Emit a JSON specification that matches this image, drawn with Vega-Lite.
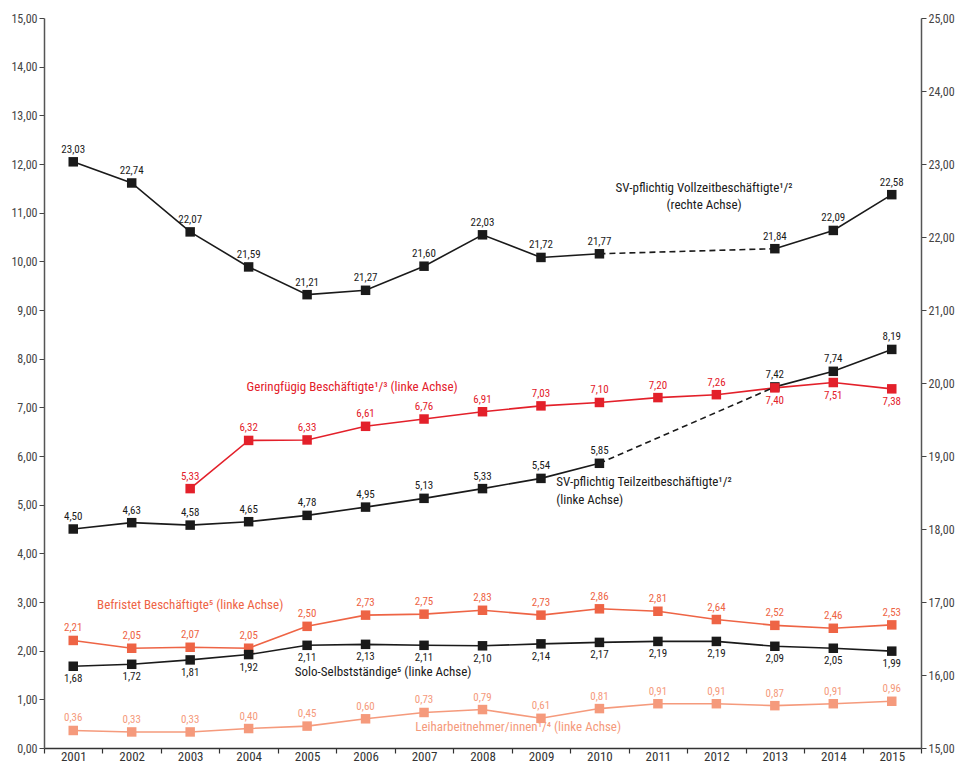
{
  "$schema": "https://vega.github.io/schema/vega-lite/v6.json",
  "width": 877,
  "height": 730,
  "autosize": "none",
  "padding": {"left": 44, "top": 18, "right": 36, "bottom": 21},
  "config": {
    "view": {"stroke": null},
    "font": "Liberation Sans Narrow, Roboto Condensed, Open Sans, sans-serif",
    "locale": {"number": {"decimal": ",", "thousands": ".", "grouping": [3], "currency": ["", " €"]}}
  },
  "datasets": {
    "main": [
      {"s": "Vollzeit", "year": 2001, "v": 23.03, "seg": "a"},
      {"s": "Vollzeit", "year": 2002, "v": 22.74, "seg": "a"},
      {"s": "Vollzeit", "year": 2003, "v": 22.07, "seg": "a"},
      {"s": "Vollzeit", "year": 2004, "v": 21.59, "seg": "a"},
      {"s": "Vollzeit", "year": 2005, "v": 21.21, "seg": "a"},
      {"s": "Vollzeit", "year": 2006, "v": 21.27, "seg": "a"},
      {"s": "Vollzeit", "year": 2007, "v": 21.60, "seg": "a"},
      {"s": "Vollzeit", "year": 2008, "v": 22.03, "seg": "a"},
      {"s": "Vollzeit", "year": 2009, "v": 21.72, "seg": "a"},
      {"s": "Vollzeit", "year": 2010, "v": 21.77, "seg": "a"},
      {"s": "Vollzeit", "year": 2013, "v": 21.84, "seg": "b"},
      {"s": "Vollzeit", "year": 2014, "v": 22.09, "seg": "b"},
      {"s": "Vollzeit", "year": 2015, "v": 22.58, "seg": "b"},
      {"s": "Teilzeit", "year": 2001, "v": 4.50, "seg": "a"},
      {"s": "Teilzeit", "year": 2002, "v": 4.63, "seg": "a"},
      {"s": "Teilzeit", "year": 2003, "v": 4.58, "seg": "a"},
      {"s": "Teilzeit", "year": 2004, "v": 4.65, "seg": "a"},
      {"s": "Teilzeit", "year": 2005, "v": 4.78, "seg": "a"},
      {"s": "Teilzeit", "year": 2006, "v": 4.95, "seg": "a"},
      {"s": "Teilzeit", "year": 2007, "v": 5.13, "seg": "a"},
      {"s": "Teilzeit", "year": 2008, "v": 5.33, "seg": "a"},
      {"s": "Teilzeit", "year": 2009, "v": 5.54, "seg": "a"},
      {"s": "Teilzeit", "year": 2010, "v": 5.85, "seg": "a"},
      {"s": "Teilzeit", "year": 2013, "v": 7.42, "seg": "b"},
      {"s": "Teilzeit", "year": 2014, "v": 7.74, "seg": "b"},
      {"s": "Teilzeit", "year": 2015, "v": 8.19, "seg": "b"},
      {"s": "Geringfügig", "year": 2003, "v": 5.33, "seg": "a"},
      {"s": "Geringfügig", "year": 2004, "v": 6.32, "seg": "a"},
      {"s": "Geringfügig", "year": 2005, "v": 6.33, "seg": "a"},
      {"s": "Geringfügig", "year": 2006, "v": 6.61, "seg": "a"},
      {"s": "Geringfügig", "year": 2007, "v": 6.76, "seg": "a"},
      {"s": "Geringfügig", "year": 2008, "v": 6.91, "seg": "a"},
      {"s": "Geringfügig", "year": 2009, "v": 7.03, "seg": "a"},
      {"s": "Geringfügig", "year": 2010, "v": 7.10, "seg": "a"},
      {"s": "Geringfügig", "year": 2011, "v": 7.20, "seg": "a"},
      {"s": "Geringfügig", "year": 2012, "v": 7.26, "seg": "a"},
      {"s": "Geringfügig", "year": 2013, "v": 7.40, "seg": "a"},
      {"s": "Geringfügig", "year": 2014, "v": 7.51, "seg": "a"},
      {"s": "Geringfügig", "year": 2015, "v": 7.38, "seg": "a"},
      {"s": "Befristet", "year": 2001, "v": 2.21, "seg": "a"},
      {"s": "Befristet", "year": 2002, "v": 2.05, "seg": "a"},
      {"s": "Befristet", "year": 2003, "v": 2.07, "seg": "a"},
      {"s": "Befristet", "year": 2004, "v": 2.05, "seg": "a"},
      {"s": "Befristet", "year": 2005, "v": 2.50, "seg": "a"},
      {"s": "Befristet", "year": 2006, "v": 2.73, "seg": "a"},
      {"s": "Befristet", "year": 2007, "v": 2.75, "seg": "a"},
      {"s": "Befristet", "year": 2008, "v": 2.83, "seg": "a"},
      {"s": "Befristet", "year": 2009, "v": 2.73, "seg": "a"},
      {"s": "Befristet", "year": 2010, "v": 2.86, "seg": "a"},
      {"s": "Befristet", "year": 2011, "v": 2.81, "seg": "a"},
      {"s": "Befristet", "year": 2012, "v": 2.64, "seg": "a"},
      {"s": "Befristet", "year": 2013, "v": 2.52, "seg": "a"},
      {"s": "Befristet", "year": 2014, "v": 2.46, "seg": "a"},
      {"s": "Befristet", "year": 2015, "v": 2.53, "seg": "a"},
      {"s": "Solo", "year": 2001, "v": 1.68, "seg": "a"},
      {"s": "Solo", "year": 2002, "v": 1.72, "seg": "a"},
      {"s": "Solo", "year": 2003, "v": 1.81, "seg": "a"},
      {"s": "Solo", "year": 2004, "v": 1.92, "seg": "a"},
      {"s": "Solo", "year": 2005, "v": 2.11, "seg": "a"},
      {"s": "Solo", "year": 2006, "v": 2.13, "seg": "a"},
      {"s": "Solo", "year": 2007, "v": 2.11, "seg": "a"},
      {"s": "Solo", "year": 2008, "v": 2.10, "seg": "a"},
      {"s": "Solo", "year": 2009, "v": 2.14, "seg": "a"},
      {"s": "Solo", "year": 2010, "v": 2.17, "seg": "a"},
      {"s": "Solo", "year": 2011, "v": 2.19, "seg": "a"},
      {"s": "Solo", "year": 2012, "v": 2.19, "seg": "a"},
      {"s": "Solo", "year": 2013, "v": 2.09, "seg": "a"},
      {"s": "Solo", "year": 2014, "v": 2.05, "seg": "a"},
      {"s": "Solo", "year": 2015, "v": 1.99, "seg": "a"},
      {"s": "Leih", "year": 2001, "v": 0.36, "seg": "a"},
      {"s": "Leih", "year": 2002, "v": 0.33, "seg": "a"},
      {"s": "Leih", "year": 2003, "v": 0.33, "seg": "a"},
      {"s": "Leih", "year": 2004, "v": 0.40, "seg": "a"},
      {"s": "Leih", "year": 2005, "v": 0.45, "seg": "a"},
      {"s": "Leih", "year": 2006, "v": 0.60, "seg": "a"},
      {"s": "Leih", "year": 2007, "v": 0.73, "seg": "a"},
      {"s": "Leih", "year": 2008, "v": 0.79, "seg": "a"},
      {"s": "Leih", "year": 2009, "v": 0.61, "seg": "a"},
      {"s": "Leih", "year": 2010, "v": 0.81, "seg": "a"},
      {"s": "Leih", "year": 2011, "v": 0.91, "seg": "a"},
      {"s": "Leih", "year": 2012, "v": 0.91, "seg": "a"},
      {"s": "Leih", "year": 2013, "v": 0.87, "seg": "a"},
      {"s": "Leih", "year": 2014, "v": 0.91, "seg": "a"},
      {"s": "Leih", "year": 2015, "v": 0.96, "seg": "a"}
    ],
    "dash": [
      {"s": "Teilzeit", "year": 2010, "v": 5.85},
      {"s": "Teilzeit", "year": 2013, "v": 7.42},
      {"s": "Vollzeit", "year": 2010, "v": 21.77},
      {"s": "Vollzeit", "year": 2013, "v": 21.84}
    ],
    "annot": [
      {"s": "Vollzeit", "year": 2011.79, "v": 22.67, "t": "SV-pflichtig Vollzeitbeschäftigte¹/²"},
      {"s": "Vollzeit", "year": 2011.79, "v": 22.44, "t": "(rechte Achse)"},
      {"s": "Geringfügig", "year": 2005.77, "v": 7.42, "t": "Geringfügig Beschäftigte¹/³ (linke Achse)"},
      {"s": "Teilzeit", "year": 2009.26, "v": 5.47, "t": "SV-pflichtig Teilzeitbeschäftigte¹/²"},
      {"s": "Teilzeit", "year": 2009.26, "v": 5.10, "t": "(linke Achse)"},
      {"s": "Befristet", "year": 2003.0, "v": 2.93, "t": "Befristet Beschäftigte⁵ (linke Achse)"},
      {"s": "Solo", "year": 2004.79, "v": 1.57, "t": "Solo-Selbstständige⁵ (linke Achse)"},
      {"s": "Leih", "year": 2006.85, "v": 0.44, "t": "Leiharbeitnehmer/innen¹/⁴ (linke Achse)"}
    ]
  },
  "encoding": {
    "x": {
      "field": "year",
      "type": "quantitative",
      "scale": {"domain": [2000.5, 2015.5], "nice": false, "zero": false},
      "axis": {
        "title": null,
        "grid": false,
        "values": [2000.5, 2001, 2001.5, 2002, 2002.5, 2003, 2003.5, 2004, 2004.5, 2005, 2005.5, 2006, 2006.5, 2007, 2007.5, 2008, 2008.5, 2009, 2009.5, 2010, 2010.5, 2011, 2011.5, 2012, 2012.5, 2013, 2013.5, 2014, 2014.5, 2015, 2015.5],
        "labelExpr": "datum.value % 1 == 0 ? toString(datum.value) : ''",
        "labelOverlap": false,
        "labelFlush": false,
        "labelFontSize": 13,
        "labelColor": "#333",
        "labelPadding": 2,
        "tickSize": {"condition": {"test": "datum.value % 1 == 0", "value": 0}, "value": 5},
        "tickColor": "#333",
        "tickWidth": 1.2,
        "domainColor": "#333",
        "domainWidth": 1.5
      }
    },
    "color": {
      "field": "s",
      "type": "nominal",
      "legend": null,
      "scale": {
        "domain": ["Vollzeit", "Teilzeit", "Solo", "Geringfügig", "Befristet", "Leih"],
        "range": ["#1a1a1a", "#1a1a1a", "#1a1a1a", "#e3202a", "#ee6445", "#f59a7c"]
      }
    }
  },
  "layer": [
    {
      "encoding": {
        "y": {
          "field": "v",
          "type": "quantitative",
          "scale": {"domain": [0, 15], "nice": false},
          "axis": {
            "orient": "left",
            "title": null,
            "grid": false,
            "values": [0, 1, 2, 3, 4, 5, 6, 7, 8, 9, 10, 11, 12, 13, 14, 15],
            "format": ".2f",
            "labelFontSize": 12,
            "labelColor": "#444",
            "labelPadding": 2,
            "tickSize": 5,
            "tickColor": "#444",
            "domainColor": "#555",
            "domainWidth": 1.5
          }
        }
      },
      "layer": [
        {
          "data": {"name": "main"},
          "transform": [{"filter": "datum.s != 'Vollzeit'"}],
          "mark": {"type": "line", "strokeWidth": 1.6},
          "encoding": {"detail": {"field": "seg", "type": "nominal"}}
        },
        {
          "data": {"name": "dash"},
          "transform": [{"filter": "datum.s == 'Teilzeit'"}],
          "mark": {"type": "line", "strokeWidth": 1.6, "strokeDash": [6, 4]},
          "encoding": {}
        },
        {
          "data": {"name": "main"},
          "transform": [{"filter": "datum.s != 'Vollzeit'"}],
          "mark": {"type": "point", "shape": "square", "filled": true, "size": 90, "opacity": 1}
        },
        {
          "data": {"name": "main"},
          "transform": [{"filter": "datum.s != 'Vollzeit' && datum.s != 'Solo' && !(datum.s == 'Geringfügig' && datum.year >= 2013)"}],
          "mark": {"type": "text", "baseline": "bottom", "dy": -7, "fontSize": 11},
          "encoding": {"text": {"field": "v", "type": "quantitative", "format": ".2f"}}
        },
        {
          "data": {"name": "main"},
          "transform": [{"filter": "datum.s == 'Solo' || (datum.s == 'Geringfügig' && datum.year >= 2013)"}],
          "mark": {"type": "text", "baseline": "top", "dy": 7, "fontSize": 11},
          "encoding": {"text": {"field": "v", "type": "quantitative", "format": ".2f"}}
        },
        {
          "data": {"name": "annot"},
          "transform": [{"filter": "datum.s == 'Geringfügig' || datum.s == 'Befristet'"}],
          "mark": {"type": "text", "align": "center", "baseline": "middle", "fontSize": 13},
          "encoding": {"text": {"field": "t"}}
        },
        {
          "data": {"name": "annot"},
          "transform": [{"filter": "datum.s == 'Teilzeit' || datum.s == 'Solo' || datum.s == 'Leih'"}],
          "mark": {"type": "text", "align": "left", "baseline": "middle", "fontSize": 13},
          "encoding": {"text": {"field": "t"}}
        }
      ]
    },
    {
      "encoding": {
        "y": {
          "field": "v",
          "type": "quantitative",
          "scale": {"domain": [15, 25], "nice": false, "zero": false},
          "axis": {
            "orient": "right",
            "title": null,
            "grid": false,
            "values": [15, 16, 17, 18, 19, 20, 21, 22, 23, 24, 25],
            "format": ".2f",
            "labelFontSize": 12,
            "labelColor": "#444",
            "labelPadding": 2,
            "tickSize": 5,
            "tickColor": "#444",
            "domainColor": "#555",
            "domainWidth": 1.5
          }
        }
      },
      "layer": [
        {
          "data": {"name": "main"},
          "transform": [{"filter": "datum.s == 'Vollzeit'"}],
          "mark": {"type": "line", "strokeWidth": 1.6},
          "encoding": {"detail": {"field": "seg", "type": "nominal"}}
        },
        {
          "data": {"name": "dash"},
          "transform": [{"filter": "datum.s == 'Vollzeit'"}],
          "mark": {"type": "line", "strokeWidth": 1.6, "strokeDash": [6, 4]},
          "encoding": {}
        },
        {
          "data": {"name": "main"},
          "transform": [{"filter": "datum.s == 'Vollzeit'"}],
          "mark": {"type": "point", "shape": "square", "filled": true, "size": 90, "opacity": 1}
        },
        {
          "data": {"name": "main"},
          "transform": [{"filter": "datum.s == 'Vollzeit'"}],
          "mark": {"type": "text", "baseline": "bottom", "dy": -7, "fontSize": 11},
          "encoding": {"text": {"field": "v", "type": "quantitative", "format": ".2f"}}
        },
        {
          "data": {"name": "annot"},
          "transform": [{"filter": "datum.s == 'Vollzeit'"}],
          "mark": {"type": "text", "align": "center", "baseline": "middle", "fontSize": 13},
          "encoding": {"text": {"field": "t"}}
        }
      ]
    }
  ],
  "resolve": {"scale": {"y": "independent"}}
}
